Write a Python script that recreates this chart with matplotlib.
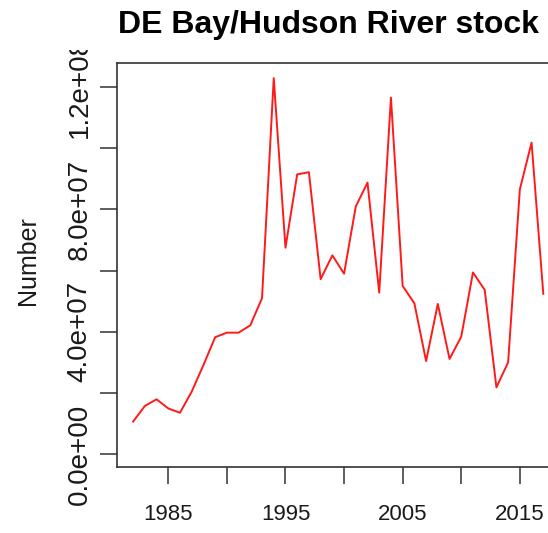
import matplotlib
matplotlib.use('Agg')
import matplotlib.pyplot as plt
from matplotlib.patches import Rectangle

# data
years = list(range(1982, 2018))
number = [
    10.6e6, 15.7e6, 17.9e6, 14.9e6, 13.5e6, 20.4e6, 29.1e6, 38.2e6, 39.7e6,
    39.7e6, 42.1e6, 51.0e6, 123.0e6, 67.5e6, 91.5e6, 92.2e6, 57.2e6, 65.0e6,
    59.0e6, 81.0e6, 88.8e6, 52.8e6, 116.6e6, 55.0e6, 49.3e6, 30.4e6, 49.1e6,
    31.1e6, 38.4e6, 59.4e6, 53.7e6, 21.8e6, 30.0e6, 86.6e6, 101.9e6, 52.4e6,
]
x_ticks = [1985, 1990, 1995, 2000, 2005, 2010, 2015]
x_labels = ['1985', '', '1995', '', '2005', '', '2015']
y_ticks = [0, 2e7, 4e7, 6e7, 8e7, 1.0e8, 1.2e8]
y_labels = ['0.0e+00', '', '4.0e+07', '', '8.0e+07', '', '1.2e+08']

TXT = '#1a1a1a'
AX = '#333333'

plt.rcParams['font.family'] = ['Liberation Sans', 'DejaVu Sans']

W, H = 548, 533
fig = plt.figure(figsize=(W / 100, H / 100), dpi=100)
fig.patch.set_facecolor('white')

# axes box runs past the right edge, as in the cropped reference
left, right, top, bottom = 116.7, 559.7, 62.5, 466.7
ax = fig.add_axes([left / W, (H - bottom) / H, (right - left) / W, (bottom - top) / H])

ax.plot(years, number, color='#ff1a1a', linewidth=1.4)

ax.set_xlim(1980.6, 2018.4)
ax.set_ylim(-4.16e6, 1.281e8)

ax.set_xticks(x_ticks)
ax.set_xticklabels(x_labels, fontsize=16, color=TXT)
ax.set_yticks(y_ticks)
ax.set_yticklabels(y_labels, fontsize=20, color=TXT, rotation=90, va='center')

ax.tick_params(axis='x', length=12, width=1.1, color=AX, pad=15)
ax.tick_params(axis='y', length=12, width=1.1, color=AX, pad=5.5)
for side in ['top', 'bottom', 'left', 'right']:
    ax.spines[side].set_color(AX)
    ax.spines[side].set_linewidth(1.2)

ax.set_ylabel('Number', fontsize=18, color=TXT)
ax.yaxis.set_label_coords(-0.174, 0.51)

# white strip above the plot hides the top of the y label, like the reference
fig.patches.append(Rectangle((0, 1 - 50 / H), 1, 50 / H, transform=fig.transFigure,
                             facecolor='white', edgecolor='none', zorder=5))
fig.text(328 / W, 1 - 33 / H, 'DE Bay/Hudson River stock', fontsize=23,
         fontweight='bold', color='black', ha='center', va='baseline', zorder=6)

fig.savefig('out.png', dpi=100, facecolor='white')
